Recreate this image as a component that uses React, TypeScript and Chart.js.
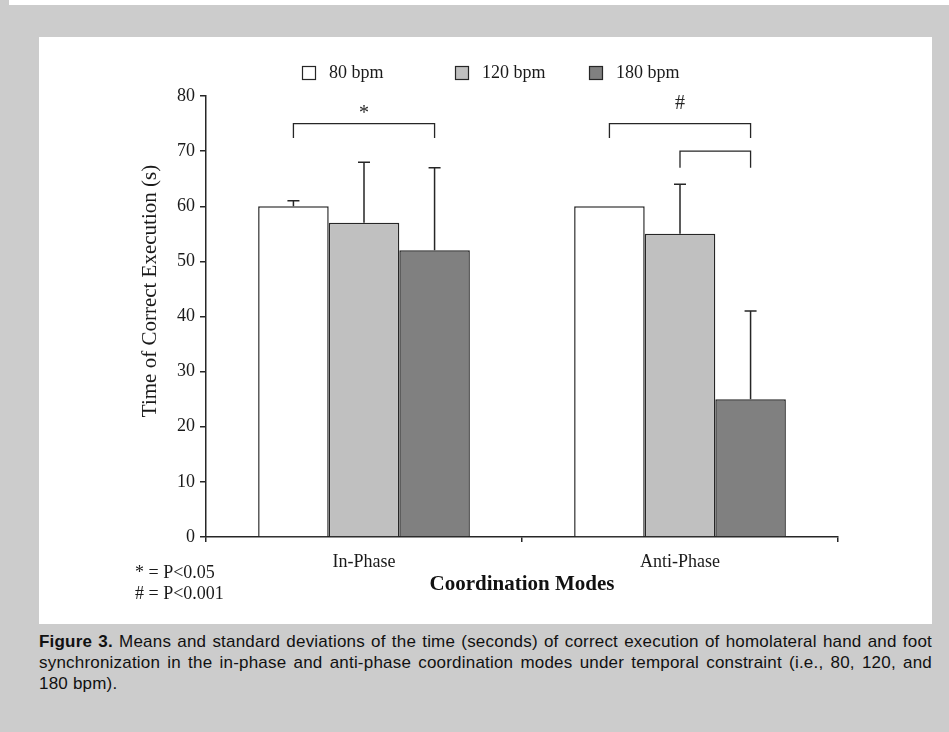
import React, { useEffect, useRef } from "react";
import { Chart, registerables } from "chart.js";

Chart.register(...registerables);

// ---- data ----
const categories = ["In-Phase", "Anti-Phase"];
const seriesLabels = ["80 bpm", "120 bpm", "180 bpm"];
const bpm80 = [60, 60];
const bpm120 = [57, 55];
const bpm180 = [52, 25];
const sd80 = [1, 0];
const sd120 = [11, 9];
const sd180 = [15, 16];
const yMin = 0;
const yMax = 80;
const yStep = 10;
// significance brackets
const bracketCategory = [0, 1, 1];
const bracketFrom = [0, 0, 1];
const bracketTo = [2, 2, 2];
const bracketTop = [75, 75, 70];
const bracketFoot = [72.4, 72.4, 67];
const bracketMark = ["*", "#", ""];
const bracketMarkValue = [76.8, 78.6, 0];
const footnotes = ["* = P<0.05", "# = P<0.001"];
const yTitle = "Time of Correct Execution (s)";
const xTitle = "Coordination Modes";

// ---- styles ----
const INK = "#262626";
const FILLS = ["#ffffff", "#c0c0c0", "#808080"];
const SERIF = "'Liberation Serif', 'Times New Roman', serif";
const SANS = "'Liberation Sans', Arial, Helvetica, sans-serif";
const CANVAS_W = 893;
const CANVAS_H = 587;
const LEGEND_X = [263, 416, 550];
const LEGEND_Y = 29;
const LEGEND_BOX = 14;

const sdSets = [sd80, sd120, sd180];

const annotatePlugin = {
  id: "annotate",
  afterDatasetsDraw(chart: any) {
    const ctx = chart.ctx;
    const ys = chart.scales.y;
    ctx.save();
    ctx.strokeStyle = INK;
    ctx.lineWidth = 1.5;
    // error bars (upper only)
    sdSets.forEach((sd, di) => {
      const meta = chart.getDatasetMeta(di);
      meta.data.forEach((bar: any, j: number) => {
        if (!sd[j]) return;
        const v = chart.data.datasets[di].data[j] as number;
        const x = bar.x;
        const y0 = ys.getPixelForValue(v);
        const y1 = ys.getPixelForValue(v + sd[j]);
        ctx.beginPath();
        ctx.moveTo(x, y0);
        ctx.lineTo(x, y1);
        ctx.moveTo(x - 6, y1);
        ctx.lineTo(x + 6, y1);
        ctx.stroke();
      });
    });
    // brackets
    ctx.lineWidth = 1.3;
    bracketCategory.forEach((cat, k) => {
      const x1 = chart.getDatasetMeta(bracketFrom[k]).data[cat].x;
      const x2 = chart.getDatasetMeta(bracketTo[k]).data[cat].x;
      const top = ys.getPixelForValue(bracketTop[k]);
      const foot = ys.getPixelForValue(bracketFoot[k]);
      ctx.beginPath();
      ctx.moveTo(x1, foot);
      ctx.lineTo(x1, top);
      ctx.lineTo(x2, top);
      ctx.lineTo(x2, foot);
      ctx.stroke();
      if (bracketMark[k]) {
        ctx.fillStyle = INK;
        ctx.font = `20px ${SERIF}`;
        ctx.textAlign = "center";
        ctx.textBaseline = "middle";
        ctx.fillText(bracketMark[k], (x1 + x2) / 2, ys.getPixelForValue(bracketMarkValue[k]));
      }
    });
    ctx.restore();
  },
  afterDraw(chart: any) {
    const ctx = chart.ctx;
    ctx.save();
    // legend
    chart.data.datasets.forEach((ds: any, i: number) => {
      const x = LEGEND_X[i];
      ctx.fillStyle = ds.backgroundColor;
      ctx.fillRect(x, LEGEND_Y, LEGEND_BOX, LEGEND_BOX);
      ctx.strokeStyle = INK;
      ctx.lineWidth = 1.2;
      ctx.strokeRect(x + 0.5, LEGEND_Y + 0.5, LEGEND_BOX - 1, LEGEND_BOX - 1);
      ctx.fillStyle = "#1a1a1a";
      ctx.font = `18px ${SERIF}`;
      ctx.textAlign = "left";
      ctx.textBaseline = "middle";
      ctx.fillText(ds.label, x + LEGEND_BOX + 13, LEGEND_Y + 7);
    });
    // y title
    ctx.save();
    ctx.translate(111, 254);
    ctx.rotate(-Math.PI / 2);
    ctx.font = `21px ${SERIF}`;
    ctx.fillStyle = "#1a1a1a";
    ctx.textAlign = "center";
    ctx.textBaseline = "middle";
    ctx.fillText(yTitle, 0, 0);
    ctx.restore();
    // footnotes
    ctx.font = `18px ${SERIF}`;
    ctx.fillStyle = "#1a1a1a";
    ctx.textAlign = "left";
    ctx.textBaseline = "alphabetic";
    footnotes.forEach((t, i) => ctx.fillText(t, 96, 541 + i * 21));
    ctx.restore();
  },
};

export default function App() {
  const ref = useRef<HTMLCanvasElement | null>(null);

  useEffect(() => {
    document.body.style.margin = "0";
    const canvas = ref.current;
    if (!canvas) return;
    const chart = new Chart(canvas, {
      type: "bar",
      data: {
        labels: categories,
        datasets: [bpm80, bpm120, bpm180].map((d, i) => ({
          label: seriesLabels[i],
          data: d,
          backgroundColor: FILLS[i],
          borderColor: INK,
          borderWidth: 1.5,
          categoryPercentage: 0.67,
          barPercentage: 1.0,
        })),
      },
      options: {
        responsive: false,
        animation: false,
        devicePixelRatio: 1,
        layout: { padding: { left: 0, right: 94, top: 59, bottom: 0 } },
        plugins: {
          legend: { display: false },
          tooltip: { enabled: false },
          title: { display: false },
        },
        scales: {
          x: {
            offset: true,
            afterFit: (s: any) => {
              s.height = 87;
            },
            grid: {
              offset: true,
              drawOnChartArea: false,
              drawTicks: true,
              tickLength: 5,
              color: INK,
              lineWidth: 1.5,
            },
            border: { display: true, color: INK, width: 1.5 },
            ticks: {
              color: "#1a1a1a",
              font: { family: SERIF, size: 18 },
              padding: 9,
            },
            title: {
              display: true,
              text: xTitle,
              color: "#111",
              font: { family: SERIF, size: 21, weight: "bold" },
              padding: { top: 0, bottom: 27 },
            },
          },
          y: {
            min: yMin,
            max: yMax,
            afterFit: (s: any) => {
              s.width = 167;
            },
            grid: {
              drawOnChartArea: false,
              drawTicks: true,
              tickLength: 6,
              color: INK,
              lineWidth: 1.5,
            },
            border: { display: true, color: INK, width: 1.5 },
            ticks: {
              stepSize: yStep,
              color: "#1a1a1a",
              font: { family: SERIF, size: 18 },
              padding: 5,
            },
          },
        },
      },
      plugins: [annotatePlugin],
    } as any);
    return () => chart.destroy();
  }, []);

  const lineStyle: React.CSSProperties = {
    textAlign: "justify",
    textAlignLast: "justify" as any,
    whiteSpace: "nowrap",
  };

  return (
    <div
      style={{
        position: "fixed",
        left: 0,
        top: 0,
        width: 949,
        height: 732,
        background: "#cccccc",
        overflow: "hidden",
      }}
    >
      <div style={{ position: "absolute", left: 9, top: 0, width: 940, height: 5, background: "#ffffff" }} />
      <div
        style={{
          position: "absolute",
          left: 39,
          top: 37,
          width: CANVAS_W,
          height: CANVAS_H,
          background: "#ffffff",
        }}
      >
        <canvas ref={ref} width={CANVAS_W} height={CANVAS_H} style={{ display: "block" }} />
      </div>
      <div
        style={{
          position: "absolute",
          left: 39,
          top: 631,
          width: 893,
          fontFamily: SANS,
          fontSize: 17,
          letterSpacing: "0.2px",
          lineHeight: "21px",
          color: "#111",
        }}
      >
        <div style={lineStyle}>
          <b>Figure 3.</b> Means and standard deviations of the time (seconds) of correct execution of homolateral hand and foot
        </div>
        <div style={lineStyle}>
          synchronization in the in-phase and anti-phase coordination modes under temporal constraint (i.e., 80, 120, and
        </div>
        <div>180 bpm).</div>
      </div>
    </div>
  );
}
